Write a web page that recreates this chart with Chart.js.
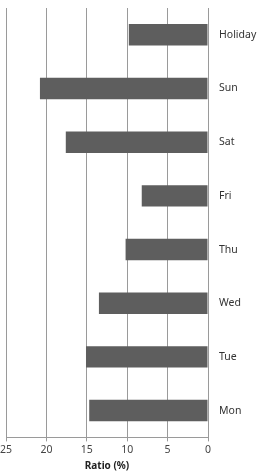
<!DOCTYPE html>
<html>
<head>
<meta charset="utf-8">
<script src="https://cdn.jsdelivr.net/npm/chart.js@4.4.1/dist/chart.umd.min.js"></script>
<style>
  html, body { margin: 0; padding: 0; background: #fff; }
  #wrap { width: 261px; height: 472px; position: relative; }
</style>
</head>
<body>
<div id="wrap"><canvas id="chart"></canvas></div>
<script>
const days = ["Holiday", "Sun", "Sat", "Fri", "Thu", "Wed", "Tue", "Mon"];
const ratios = [9.8, 20.8, 17.6, 8.2, 10.2, 13.5, 15.1, 14.7];
const ratioTicks = [0, 5, 10, 15, 20, 25];

var ctx = document.getElementById("chart").getContext("2d");
var myChart = new Chart(ctx, {
  type: "bar",
  data: {
    labels: days,
    datasets: [
      {
        label: "Ratio (%)",
        data: ratios,
        backgroundColor: "#5e5e5e",
        borderWidth: 0,
        barPercentage: 0.4,
        categoryPercentage: 1,
      },
    ],
  },
  options: {
    indexAxis: "y",
    responsive: true,
    maintainAspectRatio: false,
    animation: false,
    layout: { padding: { top: 8, bottom: 0, left: 6, right: 0 } },
    plugins: {
      legend: { display: false },
      tooltip: { enabled: false },
    },
    scales: {
      x: {
        reverse: true,
        min: 0,
        max: 25,
        afterBuildTicks: function (scale) {
          scale.ticks = ratioTicks.map(function (v) { return { value: v }; });
        },
        grid: { color: "#9a9a9a", tickLength: 4, lineWidth: 1 },
        border: { color: "#9a9a9a" },
        ticks: {
          color: "#444",
          font: { family: "Noto Sans", size: 10.5 },
          padding: 2,
          maxRotation: 0,
        },
        title: {
          display: true,
          text: "Ratio (%)",
          color: "#222",
          font: { family: "Noto Sans", size: 10, weight: "bold" },
          padding: { top: 2, bottom: 0 },
        },
      },
      y: {
        position: "right",
        grid: { display: false, drawTicks: true, tickLength: 11 },
        border: { display: false },
        ticks: {
          color: "#333",
          font: { family: "Noto Sans", size: 10.5 },
          padding: 0,
        },
        afterFit: function (scale) {
          scale.width = 53;
        },
      },
    },
  },
});
</script>
</body>
</html>
